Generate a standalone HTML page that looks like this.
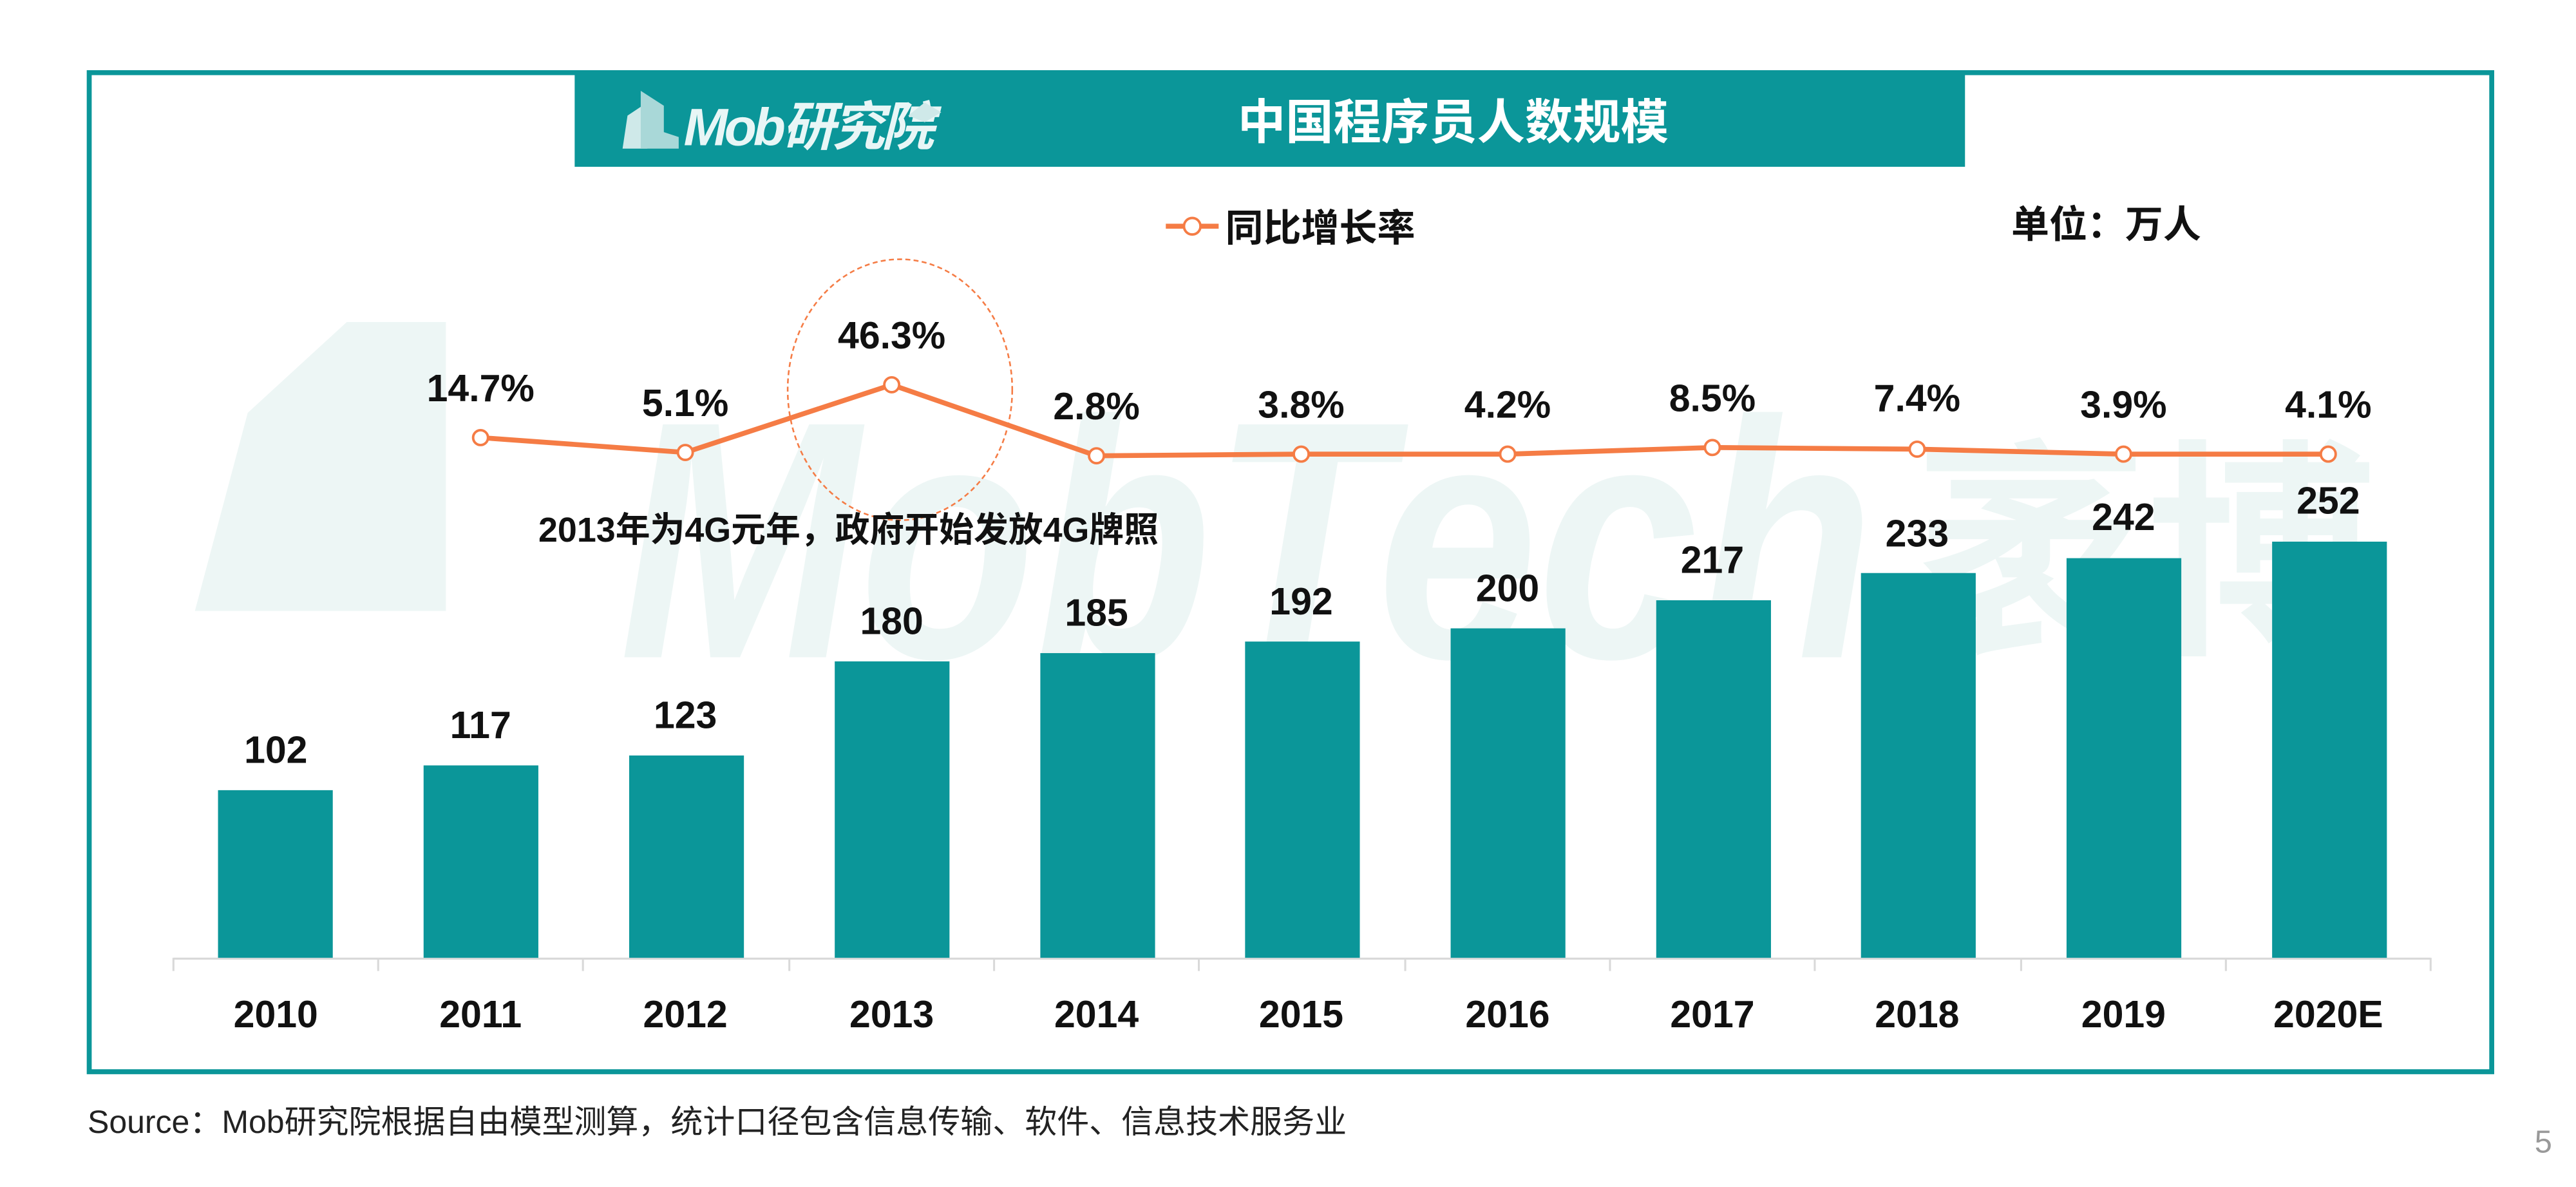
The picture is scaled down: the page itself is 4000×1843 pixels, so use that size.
<!DOCTYPE html>
<html><head><meta charset="utf-8"><style>
html,body{margin:0;padding:0;background:#fff;}
svg{display:block;}
text{font-family:"Liberation Sans","Noto Sans CJK SC",sans-serif;}
</style></head><body>
<svg width="4000" height="1843" viewBox="0 0 1560 718.8" xmlns="http://www.w3.org/2000/svg">
<rect width="1560" height="719" fill="#fff"/>
<!-- watermark -->
<g fill="#edf6f5">
<polygon points="118,370 150,250 210,195 270,195 270,370"/>
<text x="375" y="398" font-size="205" font-weight="bold" font-style="italic" textLength="760" lengthAdjust="spacingAndGlyphs">MobTech</text>
<text x="1160" y="385" font-size="140" font-weight="bold">袤博</text>
</g>
<!-- frame -->
<rect x="54" y="44" width="1455" height="605" fill="none" stroke="#0b9699" stroke-width="3"/>
<rect x="348" y="43" width="842" height="58" fill="#0b9699"/>
<!-- logo -->
<polygon points="377,90 380,70 392,62 392,90" fill="#cfe9e9"/>
<polygon points="388,90 388,55 402,64 402,80 411,83 411,90" fill="#a9d8d8"/>
<text x="414" y="88" font-size="32" font-weight="bold" font-style="italic" fill="#e8f6f6" letter-spacing="-2">Mob研究院</text>
<polygon points="550,70 560,62 570,68 560,74" fill="#cfe9e9"/>
<text x="880" y="84" font-size="29" font-weight="bold" fill="#fff" text-anchor="middle">中国程序员人数规模</text>
<!-- legend -->
<line x1="706" y1="137" x2="738" y2="137" stroke="#f57c45" stroke-width="3"/>
<circle cx="722" cy="137" r="5" fill="#fff" stroke="#f57c45" stroke-width="1.5"/>
<text x="742" y="146" font-size="23" font-weight="bold" fill="#111">同比增长率</text>
<text x="1218" y="144" font-size="23" font-weight="bold" fill="#111">单位：万人</text>
<!-- axis -->
<line x1="105" y1="580.5" x2="1472" y2="580.5" stroke="#d9d9d9" stroke-width="1.2"/>
<g stroke="#d9d9d9" stroke-width="1.2">
<line x1="105" y1="580" x2="105" y2="588"/><line x1="229" y1="580" x2="229" y2="588"/><line x1="353" y1="580" x2="353" y2="588"/><line x1="478" y1="580" x2="478" y2="588"/><line x1="602" y1="580" x2="602" y2="588"/><line x1="726" y1="580" x2="726" y2="588"/><line x1="851" y1="580" x2="851" y2="588"/><line x1="975" y1="580" x2="975" y2="588"/><line x1="1099" y1="580" x2="1099" y2="588"/><line x1="1224" y1="580" x2="1224" y2="588"/><line x1="1348" y1="580" x2="1348" y2="588"/><line x1="1472" y1="580" x2="1472" y2="588"/>
</g>
<!-- bars -->
<g fill="#0b9699">
<rect x="132" y="478.5" width="69.5" height="101.5"/>
<rect x="256.5" y="463.5" width="69.5" height="116.5"/>
<rect x="381" y="457.5" width="69.5" height="122.5"/>
<rect x="505.5" y="400.5" width="69.5" height="179.5"/>
<rect x="630" y="395.5" width="69.5" height="184.5"/>
<rect x="754" y="388.5" width="69.5" height="191.5"/>
<rect x="878.5" y="380.5" width="69.5" height="199.5"/>
<rect x="1003" y="363.5" width="69.5" height="216.5"/>
<rect x="1127" y="347" width="69.5" height="233"/>
<rect x="1251.5" y="338" width="69.5" height="242"/>
<rect x="1376" y="328" width="69.5" height="252"/>
</g>
<g font-size="23" font-weight="bold" fill="#111" text-anchor="middle">
<text x="167" y="462">102</text><text x="291" y="447">117</text><text x="415" y="441">123</text><text x="540" y="384">180</text><text x="664" y="379">185</text><text x="788" y="372">192</text><text x="913" y="364">200</text><text x="1037" y="347">217</text><text x="1161" y="331">233</text><text x="1286" y="321">242</text><text x="1410" y="311">252</text>
<text x="167" y="622">2010</text><text x="291" y="622">2011</text><text x="415" y="622">2012</text><text x="540" y="622">2013</text><text x="664" y="622">2014</text><text x="788" y="622">2015</text><text x="913" y="622">2016</text><text x="1037" y="622">2017</text><text x="1161" y="622">2018</text><text x="1286" y="622">2019</text><text x="1410" y="622">2020E</text>
<text x="291" y="243">14.7%</text><text x="415" y="252">5.1%</text><text x="540" y="211">46.3%</text><text x="664" y="254">2.8%</text><text x="788" y="253">3.8%</text><text x="913" y="253">4.2%</text><text x="1037" y="249">8.5%</text><text x="1161" y="249">7.4%</text><text x="1286" y="253">3.9%</text><text x="1410" y="253">4.1%</text>
</g>
<ellipse cx="545" cy="236" rx="68" ry="79" fill="none" stroke="#f57c45" stroke-width="1" stroke-dasharray="3,2"/>
<polyline points="291,265 415,274 540,233 664,276 788,275 913,275 1037,271 1161,272 1286,275 1410,275" fill="none" stroke="#f57c45" stroke-width="3"/>
<g fill="#fff" stroke="#f57c45" stroke-width="1.5">
<circle cx="291" cy="265" r="4.5"/><circle cx="415" cy="274" r="4.5"/><circle cx="540" cy="233" r="4.5"/><circle cx="664" cy="276" r="4.5"/><circle cx="788" cy="275" r="4.5"/><circle cx="913" cy="275" r="4.5"/><circle cx="1037" cy="271" r="4.5"/><circle cx="1161" cy="272" r="4.5"/><circle cx="1286" cy="275" r="4.5"/><circle cx="1410" cy="275" r="4.5"/>
</g>
<text x="326" y="328" font-size="21" font-weight="bold" fill="#111">2013年为4G元年，政府开始发放4G牌照</text>
<text x="53" y="686" font-size="19.5" fill="#222">Source：Mob研究院根据自由模型测算，统计口径包含信息传输、软件、信息技术服务业</text>
<text x="1535" y="698" font-size="19" fill="#999">5</text>
</svg>
</body></html>
